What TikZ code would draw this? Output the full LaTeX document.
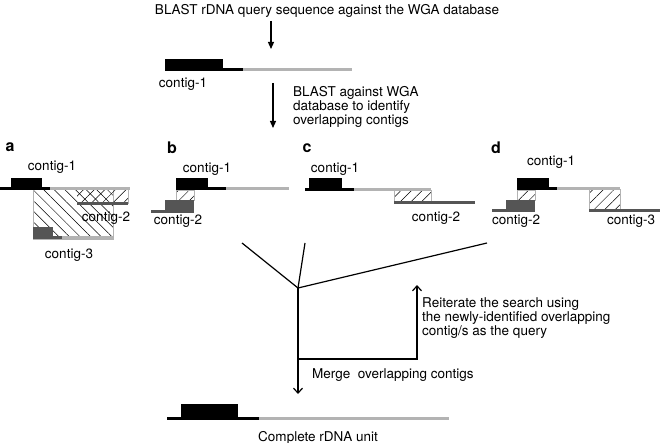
\documentclass[tikz,border=0pt]{standalone}
\usepackage{fontspec}
\setmainfont{TeX Gyre Heros}
\usetikzlibrary{patterns.meta,arrows.meta}
\definecolor{lg}{HTML}{B3B3B3}
\definecolor{dg}{HTML}{555555}
\begin{document}
\begin{tikzpicture}[x=1pt,y=-1pt,
  txt/.style={font=\fontsize{13.5}{14}\selectfont, inner sep=0pt},
  lab/.style={font=\fontsize{16}{16}\selectfont\bfseries, inner sep=0pt},
  blk/.style={line width=3pt, black},
  lgr/.style={line width=3pt, lg},
  dgr/.style={line width=3pt, dg},
  hatne/.style={draw=lg, line width=0.8pt, pattern={Lines[angle=45,distance=7.5pt,line width=0.5pt]}},
  hatnw/.style={draw=lg, line width=0.8pt, pattern={Lines[angle=-45,distance=7.5pt,line width=0.5pt]}},
  conn/.style={line width=1.2pt},
  solidarr/.style={conn, -{Triangle[length=7pt,width=6pt]}},
  openarr/.style={conn, -{Straight Barb[length=5pt,width=9pt]}},
]
\useasboundingbox (0,0) rectangle (660,443);

% ---- top ----
\node[txt] (t1) at (327,11) {BLAST rDNA query sequence against the WGA database};
\coordinate (a1s) at (271,21);
\coordinate (a1e) at (271,49);
\draw[solidarr] (a1s) -- (a1e);
\fill[black] (165,59) rectangle (223,71);
\draw[blk] (165,69.5) -- (243,69.5);
\draw[lgr] (243,69.5) -- (352,69.5);
\node[txt] (c0) at (183,84) {contig-1};
\coordinate (a2s) at (273,83);
\coordinate (a2e) at (273,128);
\draw[solidarr] (a2s) -- (a2e);
\node[txt, anchor=north west, align=left] (t2) at (293,86) {BLAST against WGA\\database to identify\\overlapping contigs};

% ---- panel a ----
\node[lab] (la) at (10,147) {a};
\draw[hatnw] (33,189) rectangle (113,239);
\path[pattern={Lines[angle=45,distance=7.5pt,line width=0.5pt]}] (77,189) rectangle (128,204);
\draw[lg, line width=0.8pt] (128,189) -- (128,204);
\fill[black] (11,178) rectangle (42,190);
\draw[blk] (0,189) -- (50,189);
\draw[lgr] (50,189) -- (130,189);
\draw[dgr] (77,204) -- (128,204);
\fill[dg] (33,227) rectangle (53,239.5);
\draw[dgr] (53,238) -- (62,238);
\draw[lgr] (62,238) -- (113,238);
\node[txt] (a1) at (52,167) {contig-1};
\node[txt] (a2) at (106,218) {contig-2};
\node[txt] (a3) at (69,255) {contig-3};

% ---- panel b ----
\node[lab] (lb) at (172,148) {b};
\draw[hatne] (176,190) rectangle (194,200);
\fill[black] (176,178) rectangle (208,190.5);
\draw[blk] (208,189) -- (226,189);
\draw[lgr] (226,189) -- (289,189);
\fill[dg] (165,200) rectangle (194,213);
\draw[dgr] (151,211.5) -- (165,211.5);
\node[txt] (b1) at (207,169) {contig-1};
\node[txt] (b2) at (178,221) {contig-2};

% ---- panel c ----
\node[lab] (lc) at (307,148) {c};
\draw[hatne] (394,190) rectangle (431,203);
\fill[black] (309,178) rectangle (342,190);
\draw[blk] (305,190) -- (354,190);
\draw[lgr] (354,190) -- (431,190);
\draw[dgr] (394,203) -- (475,203);
\node[txt] (c1) at (335,169) {contig-1};
\node[txt] (c2) at (436,218) {contig-2};

% ---- panel d ----
\node[lab] (ld) at (496,148) {d};
\draw[hatne] (517,190) rectangle (535,200);
\draw[hatne] (589,189) rectangle (620,211);
\fill[black] (517,178) rectangle (549,190.5);
\draw[blk] (549,189) -- (557,189);
\draw[lgr] (557,189) -- (620,189);
\fill[dg] (506,200) rectangle (535,212);
\draw[dgr] (492,211) -- (506,211);
\draw[dgr] (589,211) -- (660,211);
\node[txt] (d1) at (551,162) {contig-1};
\node[txt] (d2) at (516,221) {contig-2};
\node[txt] (d3) at (631,221) {contig-3};

% ---- lower connectors ----
\coordinate (J) at (298,288);
\coordinate (pa) at (242,243);
\coordinate (pb) at (305,243);
\coordinate (pd) at (487,243);
\draw[conn] (pa) -- (J);
\draw[conn] (pb) -- (J);
\draw[conn] (pd) -- (J);
\coordinate (down) at (298,394);
\draw[openarr] (J) -- (down);
\coordinate (h1) at (298,359);
\coordinate (h2) at (417,359);
\coordinate (up) at (417,285);
\draw[openarr] (h1) -- (h2) -- (up);
\node[txt, anchor=north west, align=left] (t3) at (422,297) {Reiterate the search using\\the newly-identified overlapping\\contig/s as the query};
\node[txt, anchor=west] (t4) at (312,375) {Merge\ \ overlapping contigs};

% ---- final ----
\fill[black] (181,404) rectangle (238,419);
\draw[blk] (167,418) -- (259,418);
\draw[lgr] (259,418) -- (449,418);
\node[txt] (t5) at (318,438) {Complete rDNA unit};
\end{tikzpicture}
\end{document}
